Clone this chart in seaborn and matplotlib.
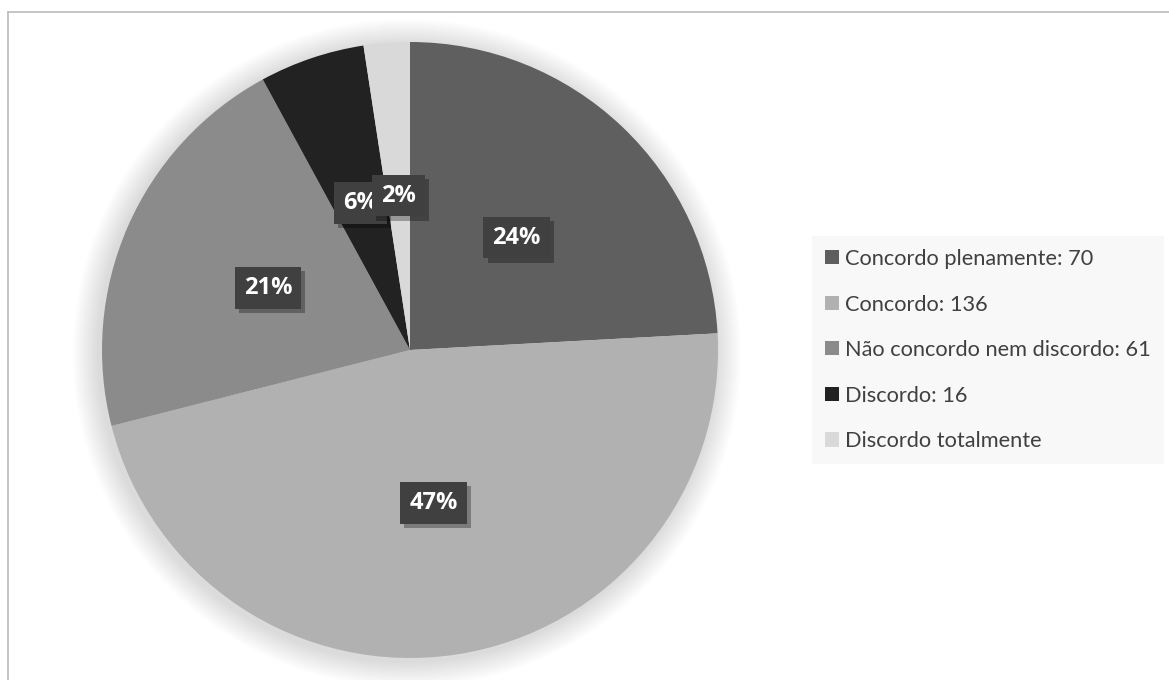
import matplotlib
matplotlib.use("Agg")
import matplotlib.pyplot as plt
import matplotlib.patheffects as pe
from matplotlib.patches import Patch, Circle
from matplotlib.lines import Line2D
import seaborn as sns

# ---- data ----
categories = ["Concordo plenamente", "Concordo", "Não concordo nem discordo",
              "Discordo", "Discordo totalmente"]
values = [70, 136, 61, 16, 7]
legend_labels = ["Concordo plenamente: 70", "Concordo: 136",
                 "Não concordo nem discordo: 61", "Discordo: 16",
                 "Discordo totalmente"]
colors = ["#5f5f5f", "#b1b1b1", "#8b8b8b", "#222222", "#d9d9d9"]

sns.set_theme(style="white")
plt.rcParams["font.family"] = ["Lato", "DejaVu Sans"]

W, H = 1169, 680
fig = plt.figure(figsize=(W / 100, H / 100), dpi=100)
fig.patch.set_facecolor("white")

# chart frame (left and top border visible)
fig.add_artist(Line2D([7.8 / W, 7.8 / W], [1 - 11.8 / H, 0], transform=fig.transFigure,
                      color="#c0c0c0", lw=1.3))
fig.add_artist(Line2D([7.8 / W, 1], [1 - 11.8 / H, 1 - 11.8 / H], transform=fig.transFigure,
                      color="#c0c0c0", lw=1.3))

cx, cy, r = 410, 350, 308
pad = 1.15
ax = fig.add_axes([(cx - r * pad) / W, (H - cy - r * pad) / H, 2 * r * pad / W, 2 * r * pad / H])

# soft shadow / glow around pie
for i in range(12):
    ax.add_patch(Circle((-0.01, -0.01), 1.0 + 0.007 * (i + 1), facecolor="black",
                        edgecolor="none", alpha=0.01, zorder=0))

wedges, texts, autotexts = ax.pie(
    values, colors=colors, startangle=90, counterclock=False, radius=1.0,
    autopct="%.0f%%", pctdistance=0.503,
    wedgeprops=dict(edgecolor="none", linewidth=0),
    textprops=dict(color="white", fontsize=17, fontweight="bold",
                   family=["Open Sans", "DejaVu Sans"]),
)
ax.set_xlim(-pad, pad)
ax.set_ylim(-pad, pad)
ax.set_aspect("equal")
ax.axis("off")

for t in autotexts:
    t.set_zorder(5)
    t.set_bbox(dict(boxstyle="square,pad=0.38", facecolor="#404040", edgecolor="none"))
    t.get_bbox_patch().set_path_effects([
        pe.SimplePatchShadow(offset=(3, -3), shadow_rgbFace="black", alpha=0.3),
        pe.Normal(),
    ])

handles = [Patch(facecolor=c, edgecolor="none") for c in colors]
leg = fig.legend(
    handles, legend_labels, loc="upper left",
    bbox_to_anchor=(812 / W, 1 - 236 / H), bbox_transform=fig.transFigure,
    borderaxespad=0, frameon=True, fancybox=False, facecolor="#f8f8f8",
    edgecolor="none", framealpha=1, fontsize=15.7, labelcolor="#404040",
    handlelength=0.62, handleheight=0.62, handletextpad=0.3,
    labelspacing=1.17, borderpad=0.6,
)

fig.savefig("out.png", dpi=100, facecolor="white")
